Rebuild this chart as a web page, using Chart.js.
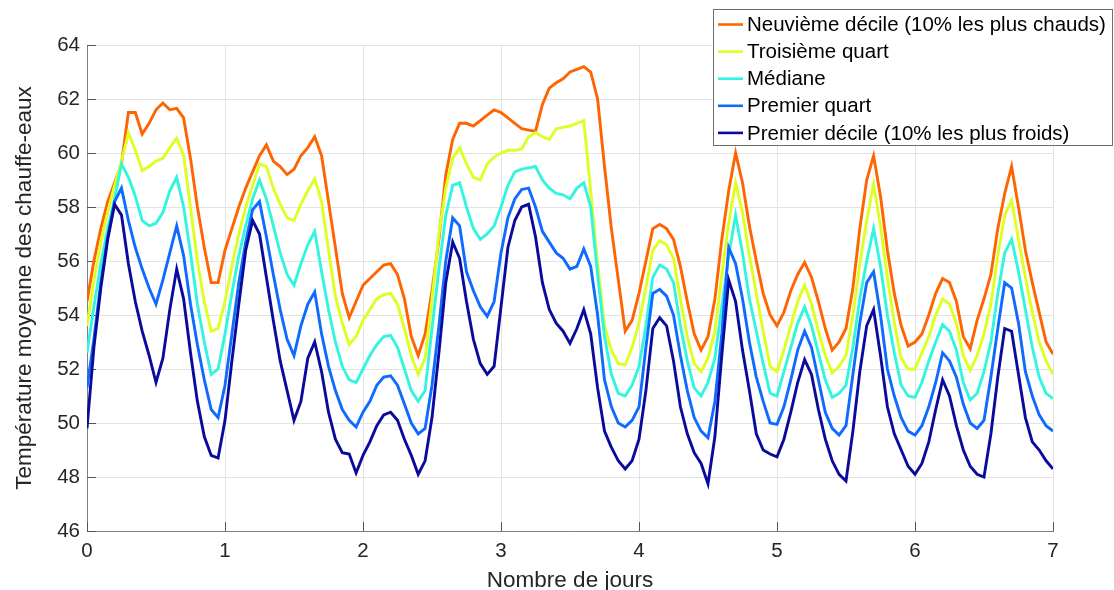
<!DOCTYPE html>
<html>
<head>
<meta charset="utf-8">
<script src="https://cdn.jsdelivr.net/npm/chart.js@4/dist/chart.umd.min.js"></script>
<style>
  html, body { margin: 0; padding: 0; background: #fff; }
  #wrap { width: 1114px; height: 590px; }
</style>
</head>
<body>
<div id="wrap"><canvas id="chauffeEau" width="1114" height="590"></canvas></div>
<script>
const neuviemeDecile = [
  54.5, 56.0, 57.2, 58.2, 58.9, 59.6, 61.5, 61.5, 60.7, 61.1,
  61.6, 61.85, 61.6, 61.65, 61.3, 59.8, 58.0, 56.5, 55.2, 55.2,
  56.4, 57.2, 58.0, 58.7, 59.3, 59.9, 60.3, 59.7, 59.5, 59.2,
  59.4, 59.9, 60.2, 60.6, 59.9, 58.2, 56.5, 54.8, 53.9, 54.5,
  55.1, 55.35, 55.6, 55.85, 55.9, 55.5, 54.6, 53.2, 52.5, 53.3,
  54.9, 56.8, 59.2, 60.5, 61.1, 61.1, 61.0, 61.2, 61.4, 61.6,
  61.5, 61.3, 61.1, 60.9, 60.85, 60.8, 61.8, 62.4, 62.6, 62.75,
  63.0, 63.1, 63.2, 63.0, 62.0, 59.5, 57.2, 55.3, 53.4, 53.8,
  54.8, 56.0, 57.2, 57.35, 57.2, 56.8, 55.8, 54.5, 53.3, 52.7,
  53.2, 54.6, 56.8, 58.6, 60.0, 58.9, 57.3, 56.0, 54.8, 54.0,
  53.6, 54.1, 54.9, 55.5, 55.95, 55.4, 54.5, 53.5, 52.7, 53.0,
  53.5, 55.0, 57.2, 59.0, 59.9, 58.4, 56.4, 54.8, 53.6, 52.85,
  53.0, 53.3, 54.0, 54.8, 55.35, 55.2, 54.5, 53.2, 52.75, 53.8,
  54.6, 55.5, 57.2, 58.5, 59.5, 58.0, 56.4, 55.2, 54.1, 53.0,
  52.55
];
const troisiemeQuart = [
  53.6, 55.3, 56.7, 57.8, 58.8, 59.7, 60.75, 60.1, 59.35, 59.5,
  59.7, 59.8, 60.2, 60.55, 59.9, 58.0, 56.0, 54.5, 53.4, 53.5,
  54.5, 55.8, 57.0, 58.0, 58.8, 59.6, 59.5, 58.7, 58.1, 57.6,
  57.5, 58.1, 58.6, 59.05, 58.2, 56.4, 54.7, 53.7, 52.9, 53.2,
  53.8, 54.2, 54.6, 54.75, 54.8, 54.4, 53.5, 52.5, 51.8, 52.4,
  54.6, 57.0, 58.7, 59.8, 60.2, 59.6, 59.1, 59.0, 59.6, 59.85,
  60.0, 60.1, 60.1, 60.15, 60.6, 60.75, 60.6, 60.5, 60.9, 60.95,
  61.0, 61.1, 61.2, 58.6, 55.9, 53.6, 52.7, 52.2, 52.15, 52.8,
  53.7, 55.0, 56.4, 56.75, 56.6, 56.1, 54.6, 53.2, 52.2, 51.9,
  52.4, 53.4, 55.5, 57.4, 58.9, 57.8, 56.2, 54.8, 53.4, 52.1,
  51.9, 52.7, 53.6, 54.5, 55.1, 54.4, 53.4, 52.5, 51.85, 52.1,
  52.5, 54.0, 55.9, 57.5, 58.85, 57.3, 55.4, 53.7, 52.4, 52.0,
  52.0, 52.6, 53.2, 54.0, 54.6, 54.4, 53.7, 52.5, 51.95, 52.5,
  53.3, 54.4, 56.2, 57.7, 58.25, 56.8, 55.4, 54.1, 53.0, 52.3,
  51.8
];
const mediane = [
  52.6, 54.3, 55.9, 57.2, 58.3, 59.6, 59.1, 58.4, 57.5, 57.3,
  57.4, 57.8, 58.6, 59.1, 58.0, 56.3, 54.4, 53.0, 51.8, 52.0,
  53.3, 54.8, 56.2, 57.3, 58.3, 59.0, 58.3, 57.3, 56.3, 55.5,
  55.1, 55.9, 56.6, 57.1, 55.6, 54.2, 53.0, 52.1, 51.6, 51.5,
  52.0, 52.5, 52.9, 53.2, 53.25, 52.8, 52.0, 51.2, 50.8, 51.2,
  53.5, 55.7, 57.7, 58.8, 58.9, 58.0, 57.2, 56.8, 57.0, 57.3,
  58.0, 58.8, 59.3, 59.4, 59.45, 59.5, 59.0, 58.7, 58.5, 58.45,
  58.3, 58.7, 58.9, 58.0, 55.5, 53.2, 51.8, 51.1, 51.0, 51.4,
  52.1, 53.6, 55.4, 55.85, 55.7, 55.2, 53.6, 52.3, 51.3, 51.0,
  51.5, 52.4, 54.3, 56.2, 57.7, 56.3, 54.6, 53.4, 52.2, 51.1,
  51.0, 51.9, 52.8, 53.7, 54.3, 53.6, 52.6, 51.6, 50.95, 51.1,
  51.4, 52.8, 54.6, 56.0, 57.2, 55.8, 54.0, 52.6, 51.4, 51.0,
  50.95, 51.5, 52.3, 53.0, 53.65, 53.4, 52.7, 51.5, 50.85, 51.1,
  51.9, 53.0, 54.8, 56.3, 56.8, 55.6, 54.2, 52.8, 51.7, 51.1,
  50.9
];
const premierQuart = [
  51.3, 53.1, 55.2, 56.9, 58.2, 58.7, 57.5, 56.5, 55.7, 55.0,
  54.4, 55.3, 56.3, 57.3, 56.2, 54.4, 52.9, 51.6, 50.5, 50.2,
  51.4, 53.3, 55.2, 56.7, 57.9, 58.2, 56.9, 55.5, 54.2, 53.1,
  52.5, 53.6, 54.4, 54.85, 53.3, 52.1, 51.2, 50.5, 50.1, 49.85,
  50.4, 50.8, 51.4, 51.7, 51.75, 51.4, 50.7, 50.0, 49.6, 49.8,
  51.4, 53.6, 56.0, 57.6, 57.3, 55.6, 54.9, 54.3, 53.95, 54.5,
  56.3, 57.6, 58.3, 58.65, 58.7, 58.0, 57.1, 56.7, 56.3, 56.1,
  55.7, 55.8, 56.45, 55.8, 54.0, 51.6, 50.6, 50.0, 49.85, 50.1,
  50.6, 52.8, 54.8, 54.95, 54.7, 54.0, 52.5, 51.2, 50.2, 49.7,
  49.45, 50.8, 53.3, 56.5, 55.9, 54.6, 53.0, 51.7, 50.8, 50.0,
  49.95, 50.6, 51.6, 52.7, 53.4, 52.8, 51.6, 50.4, 49.8, 49.55,
  49.9, 51.8, 53.7, 55.2, 55.6, 54.0, 52.0, 51.0, 50.2, 49.7,
  49.55, 49.9, 50.6, 51.5, 52.6, 52.3, 51.7, 50.7, 50.0, 49.8,
  50.1, 51.7, 53.5, 55.2, 55.0, 53.7, 51.9, 51.0, 50.3, 49.9,
  49.7
];
const premierDecile = [
  49.8, 52.8, 55.0, 56.8, 58.1, 57.7, 55.9, 54.5, 53.4, 52.5,
  51.5, 52.4, 54.2, 55.7, 54.6, 52.6, 50.8, 49.5, 48.8, 48.7,
  50.1, 52.3, 54.4, 56.4, 57.5, 57.0, 55.4, 53.8, 52.3, 51.2,
  50.1, 50.8, 52.4, 53.0, 51.9, 50.4, 49.4, 48.9, 48.85, 48.15,
  48.8, 49.3, 49.9, 50.3, 50.4, 50.1, 49.4, 48.8, 48.1, 48.6,
  50.2, 52.6, 55.2, 56.7, 56.1, 54.5, 53.1, 52.2, 51.8, 52.1,
  54.3, 56.5, 57.5, 58.0, 58.1, 56.9, 55.2, 54.2, 53.7, 53.4,
  52.95, 53.5, 54.2, 53.3, 51.3, 49.7, 49.1, 48.6, 48.3, 48.6,
  49.4, 51.2, 53.5, 53.9, 53.6, 52.3, 50.6, 49.6, 48.9, 48.5,
  47.75, 49.5, 52.5, 55.3, 54.5, 52.7, 51.2, 49.6, 49.0, 48.85,
  48.75, 49.4, 50.4, 51.5, 52.35, 51.8, 50.5, 49.4, 48.6, 48.1,
  47.85, 49.7, 51.9, 53.6, 54.2, 52.5, 50.6, 49.6, 49.0, 48.4,
  48.1, 48.5, 49.3, 50.5, 51.6, 51.0, 49.9, 49.0, 48.4, 48.1,
  48.0, 49.6, 51.7, 53.5, 53.4, 51.8, 50.2, 49.3, 49.0, 48.6,
  48.3
];

const libelles = [
  'Neuvième décile (10% les plus chauds)',
  'Troisième quart',
  'Médiane',
  'Premier quart',
  'Premier décile (10% les plus froids)'
];
const couleurs = ['#ff6400', '#ddff22', '#33f5df', '#0f6aff', '#0a0a9c'];
const series = [neuviemeDecile, troisiemeQuart, mediane, premierQuart, premierDecile];

const pas = 0.05; // sampling step in days
const jours = neuviemeDecile.map((_, i) => +(i * pas).toFixed(2));

const gris = '#262626';
const police = 'Arial, "Liberation Sans", Helvetica, sans-serif';

// legend box + inward tick marks like the matlab figure
const legendeMatlab = {
  id: 'legendeMatlab',
  beforeDatasetsDraw(chart) {
    const ctx = chart.ctx;
    const xs = chart.scales.x, ys = chart.scales.y;
    const a = chart.chartArea;
    ctx.save();
    ctx.strokeStyle = '#555';
    ctx.lineWidth = 1;
    ctx.beginPath();
    ys.ticks.forEach(t => {
      const y = Math.round(ys.getPixelForValue(t.value)) + 0.5;
      ctx.moveTo(a.left, y);
      ctx.lineTo(a.left + 9, y);
    });
    xs.ticks.forEach(t => {
      const x = Math.round(xs.getPixelForValue(t.value)) + 0.5;
      ctx.moveTo(x, a.bottom);
      ctx.lineTo(x, a.bottom - 9);
    });
    ctx.stroke();
    ctx.restore();
  },
  afterDraw(chart) {
    const ctx = chart.ctx;
    const bx = 713.5, by = 9.5, bw = 399, bh = 136;
    ctx.save();
    ctx.fillStyle = '#fff';
    ctx.fillRect(bx, by, bw, bh);
    ctx.strokeStyle = '#6e6e6e';
    ctx.lineWidth = 1;
    ctx.strokeRect(bx, by, bw, bh);
    ctx.font = '20.5px ' + police;
    ctx.textBaseline = 'middle';
    ctx.textAlign = 'left';
    chart.data.datasets.forEach((ds, i) => {
      const y = 24.5 + i * 27.1;
      ctx.strokeStyle = ds.borderColor;
      ctx.lineWidth = 2.6;
      ctx.beginPath();
      ctx.moveTo(718, y);
      ctx.lineTo(743, y);
      ctx.stroke();
      ctx.fillStyle = '#000';
      ctx.fillText(ds.label, 747, y + 1);
    });
    ctx.restore();
  }
};

new Chart(document.getElementById('chauffeEau'), {
  type: 'line',
  data: {
    datasets: series.map((vals, i) => ({
      label: libelles[i],
      data: vals.map((v, k) => ({ x: jours[k], y: v })),
      borderColor: couleurs[i],
      backgroundColor: couleurs[i],
      borderWidth: 2.9,
      pointRadius: 0,
      tension: 0,
      fill: false,
      order: series.length - i
    }))
  },
  options: {
    responsive: false,
    animation: false,
    events: [],
    layout: { padding: { top: 45, right: 61, left: 0, bottom: 0 } },
    plugins: {
      legend: { display: false },
      tooltip: { enabled: false }
    },
    scales: {
      x: {
        type: 'linear',
        min: 0,
        max: 7,
        afterFit: (s) => { s.height = 59; },
        ticks: {
          stepSize: 1,
          padding: 8,
          color: gris,
          font: { family: police, size: 20.5 }
        },
        grid: { color: '#e3e3e3', drawTicks: false },
        border: { display: true, color: '#808080', width: 1 },
        title: {
          display: true,
          text: 'Nombre de jours',
          color: gris,
          padding: { top: 0, bottom: -4 },
          font: { family: police, size: 22.5 }
        }
      },
      y: {
        min: 46,
        max: 64,
        afterFit: (s) => { s.width = 87; },
        ticks: {
          stepSize: 2,
          padding: 7,
          color: gris,
          font: { family: police, size: 20.5 }
        },
        grid: { color: '#e3e3e3', drawTicks: false },
        border: { display: true, color: '#808080', width: 1 },
        title: {
          display: true,
          text: 'Température moyenne des chauffe-eaux',
          color: gris,
          padding: { top: 11, bottom: 0 },
          font: { family: police, size: 22.5 }
        }
      }
    }
  },
  plugins: [legendeMatlab]
});
</script>
</body>
</html>
